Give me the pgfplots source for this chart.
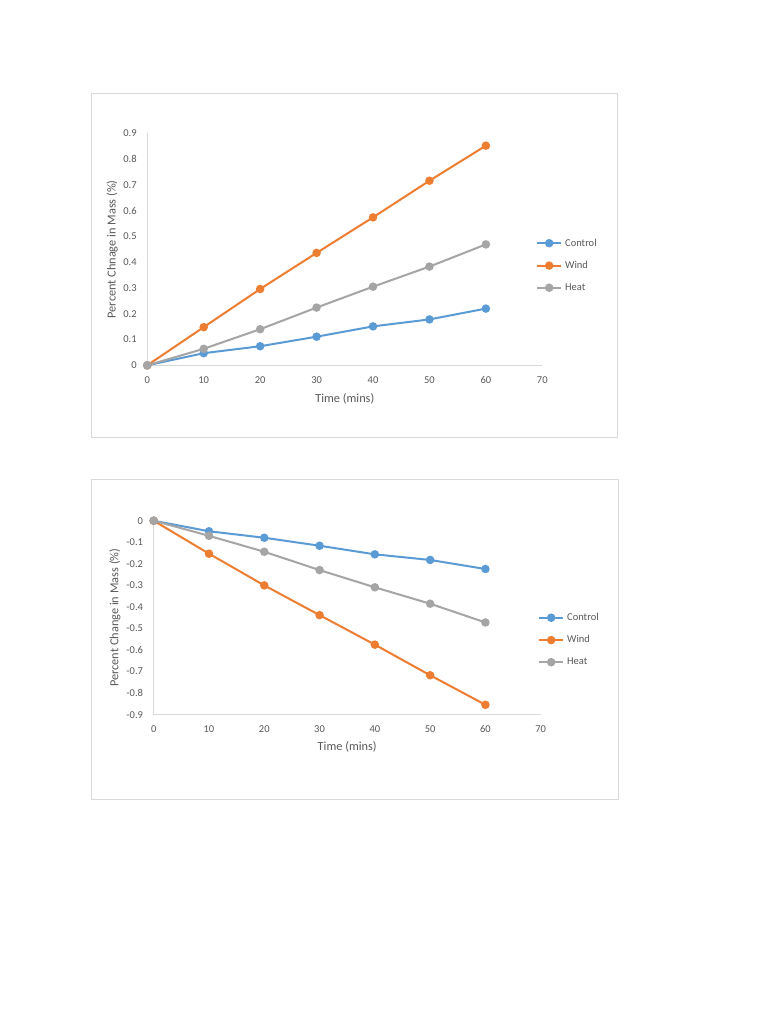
\documentclass[border=0pt]{standalone}
\usepackage{pgfplots}
\pgfplotsset{compat=1.18}
\usepackage{fontspec}
\setmainfont{Carlito}
\definecolor{cBlue}{HTML}{5B9BD5}
\definecolor{cOrange}{HTML}{ED7D31}
\definecolor{cGray}{HTML}{A5A5A5}
\definecolor{txt}{HTML}{595959}
\definecolor{axl}{HTML}{D9D9D9}
\pgfplotsset{
  mystyle/.style={
    scale only axis,
    axis lines*=left,
    axis line style={axl, line width=0.8pt, -},
    major tick length=0pt,
    xmin=0, xmax=70, xtick={0,10,...,70},
    tick label style={font=\fontsize{10.5}{12}\selectfont, text=txt},
    label style={font=\fontsize{12.3}{14}\selectfont, text=txt},
    xticklabel style={inner sep=0pt, anchor=north, yshift=-11pt},
    yticklabel style={inner sep=0pt, anchor=east, xshift=-10.5pt, /pgf/number format/.cd, fixed, fixed zerofill=false},
    /pgf/number format/assume math mode=true,
    clip=false,
    legend cell align=left,
    legend style={draw=none, fill=none, inner sep=0pt, anchor=west,
      font=\fontsize{10.5}{12}\selectfont, text=txt,
      nodes={inner sep=0pt}, row sep=13.6pt, column sep=3pt},
    legend image code/.code={\draw[mark repeat=2,mark phase=2] plot coordinates {(0pt,0pt)(12pt,0pt)(24pt,0pt)};},
    every axis plot/.append style={line width=2pt, mark=*, mark size=3.2pt, mark options={solid}},
  }
}
\begin{document}
\begin{tikzpicture}[x=1pt,y=1pt]
\fill[white] (0,0) rectangle (768,-1024);
\draw[axl, line width=1pt] (91,-93.5) rectangle (617,-437);
\draw[axl, line width=1pt] (91,-479) rectangle (618,-799);

\begin{axis}[mystyle,
  at={(147.3pt,-365.3pt)}, anchor=south west,
  width=395pt, height=232pt,
  ymin=0, ymax=0.9, ytick={0,0.1,...,0.9},
  yticklabels={0,0.1,0.2,0.3,0.4,0.5,0.6,0.7,0.8,0.9},
  xlabel={Time (mins)}, ylabel={Percent Chnage in Mass (\%)},
  xlabel style={at={(axis description cs:0.5,-0.145)}, anchor=center},
  ylabel style={at={(axis description cs:-0.0886,0.5)}, anchor=center},
  legend style={at={(0.984,0.431)}},
]
\addplot[cBlue] coordinates {(0,0)(10,0.047)(20,0.074)(30,0.111)(40,0.151)(50,0.178)(60,0.220)};
\addplot[cOrange] coordinates {(0,0)(10,0.148)(20,0.296)(30,0.436)(40,0.574)(50,0.716)(60,0.852)};
\addplot[cGray] coordinates {(0,0)(10,0.064)(20,0.140)(30,0.224)(40,0.305)(50,0.383)(60,0.469)};
\legend{Control,Wind,Heat}
\end{axis}

\begin{axis}[mystyle,
  at={(153.7pt,-714.7pt)}, anchor=south west,
  width=387pt, height=194pt,
  ymin=-0.9, ymax=0, ytick={-0.9,-0.8,...,0},
  yticklabels={-0.9,-0.8,-0.7,-0.6,-0.5,-0.4,-0.3,-0.2,-0.1,0},
  xlabel={Time (mins)}, ylabel={Percent Change in Mass (\%)},
  xlabel style={at={(axis description cs:0.5,-0.168)}, anchor=center},
  ylabel style={at={(axis description cs:-0.1,0.5)}, anchor=center},
  legend style={at={(0.993,0.386)}},
]
\addplot[cBlue] coordinates {(0,0)(10,-0.049)(20,-0.079)(30,-0.116)(40,-0.156)(50,-0.182)(60,-0.224)};
\addplot[cOrange] coordinates {(0,0)(10,-0.153)(20,-0.300)(30,-0.438)(40,-0.575)(50,-0.717)(60,-0.854)};
\addplot[cGray] coordinates {(0,0)(10,-0.070)(20,-0.144)(30,-0.229)(40,-0.309)(50,-0.385)(60,-0.472)};
\legend{Control,Wind,Heat}
\end{axis}
\end{tikzpicture}
\end{document}
